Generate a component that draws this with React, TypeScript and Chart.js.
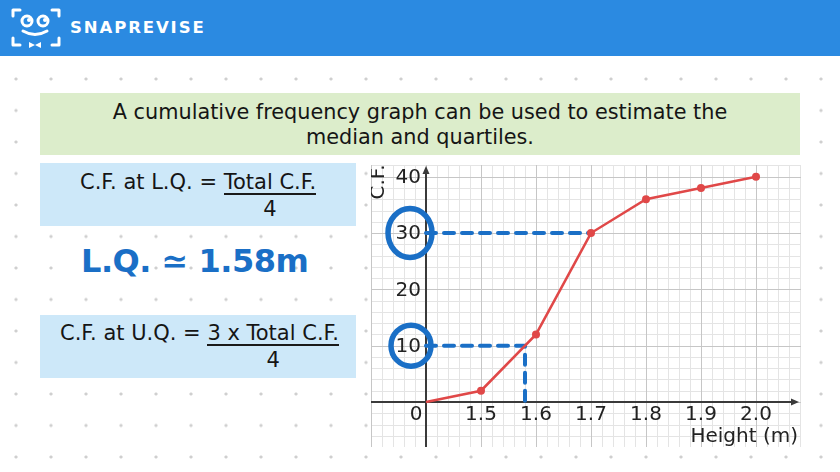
import React, { useEffect, useRef } from 'react';
import { Chart, registerables } from 'chart.js';

Chart.register(...registerables);

// ---- data ----
const heightLabels = ['0', '1.5', '1.6', '1.7', '1.8', '1.9', '2.0'];
const cumulativeFrequency = [0, 2, 12, 30, 36, 38, 40];
const yTickValues = [10, 20, 30, 40];
const circledTicks = [10, 30];
const lowerQuartileCF = 10;
const upperQuartileCF = 30;
const lowerQuartileHeight = 1.58;
const upperQuartileHeight = 1.7;

const xAxisTitle = 'Height (m)';
const yAxisTitle = 'C.F.';

// index position of a height on the broken axis (index 1 = 1.5 m, step 0.1 m)
const heightToIndex = (h: number) => 1 + (h - 1.5) / 0.1;

const BLUE = '#1a6fc6';
const RED = '#e04848';
const FONT = '"DejaVu Sans", "Open Sans", sans-serif';

const paperPlugin = {
  id: 'paperGrid',
  beforeDatasetsDraw(chart: any) {
    const { ctx, chartArea: a, scales } = chart;
    const xs = scales.x;
    const ys = scales.y;
    ctx.save();
    ctx.fillStyle = '#ffffff';
    ctx.fillRect(a.left, a.top, a.width, a.height);
    const drawV = (major: boolean) => {
      for (let k = -5; k <= 34; k++) {
        if ((k % 5 === 0) !== major) continue;
        const px = Math.round(xs.getPixelForValue(k * 0.2)) + 0.5;
        ctx.beginPath();
        ctx.moveTo(px, a.top);
        ctx.lineTo(px, a.bottom);
        ctx.stroke();
      }
    };
    const drawH = (major: boolean) => {
      for (let k = -4; k <= 21; k++) {
        if ((k % 5 === 0) !== major) continue;
        const py = Math.round(ys.getPixelForValue(k * 2)) + 0.5;
        ctx.beginPath();
        ctx.moveTo(a.left, py);
        ctx.lineTo(a.right, py);
        ctx.stroke();
      }
    };
    ctx.lineWidth = 1;
    ctx.strokeStyle = '#e4e4e4';
    drawV(false);
    drawH(false);
    ctx.strokeStyle = '#c6c6c6';
    drawV(true);
    drawH(true);

    // axes
    const x0 = xs.getPixelForValue(0);
    const y0 = ys.getPixelForValue(0);
    ctx.strokeStyle = '#3a3a3a';
    ctx.fillStyle = '#3a3a3a';
    ctx.lineWidth = 2;
    ctx.beginPath();
    ctx.moveTo(x0, a.bottom);
    ctx.lineTo(x0, a.top + 4);
    ctx.stroke();
    ctx.beginPath();
    ctx.moveTo(x0, a.top + 1);
    ctx.lineTo(x0 - 3.5, a.top + 9);
    ctx.lineTo(x0 + 3.5, a.top + 9);
    ctx.closePath();
    ctx.fill();
    ctx.beginPath();
    ctx.moveTo(a.left, y0);
    ctx.lineTo(a.right - 5, y0);
    ctx.stroke();
    ctx.beginPath();
    ctx.moveTo(a.right - 2, y0);
    ctx.lineTo(a.right - 10, y0 - 3.5);
    ctx.lineTo(a.right - 10, y0 + 3.5);
    ctx.closePath();
    ctx.fill();

    // tick labels
    ctx.fillStyle = '#222';
    ctx.font = `20px ${FONT}`;
    ctx.textBaseline = 'middle';
    ctx.textAlign = 'right';
    yTickValues.forEach((v) => {
      ctx.fillText(String(v), x0 - 5, ys.getPixelForValue(v) + 1);
    });
    heightLabels.forEach((lab, i) => {
      const px = xs.getPixelForValue(i);
      ctx.textAlign = 'center';
      ctx.fillText(lab, i === 0 ? px - 10 : px, y0 + 13);
    });
    // axis titles
    ctx.textAlign = 'right';
    ctx.fillText(xAxisTitle, a.right - 3, y0 + 35);
    ctx.save();
    ctx.translate(a.left + 8, a.top + 17);
    ctx.rotate(-Math.PI / 2);
    ctx.textAlign = 'center';
    ctx.fillText(yAxisTitle, 0, 0);
    ctx.restore();
    ctx.restore();
  },
  afterDatasetsDraw(chart: any) {
    const { ctx, scales } = chart;
    const x0 = scales.x.getPixelForValue(0);
    ctx.save();
    ctx.strokeStyle = BLUE;
    ctx.lineWidth = 5.5;
    circledTicks.forEach((v, i) => {
      const cy = scales.y.getPixelForValue(v);
      ctx.beginPath();
      if (i === 0) ctx.ellipse(x0 - 15, cy, 20, 20.5, 0, 0, Math.PI * 2);
      else ctx.ellipse(x0 - 16, cy, 22, 24.5, 0, 0, Math.PI * 2);
      ctx.stroke();
    });
    ctx.restore();
  },
};

function App() {
  const ref = useRef<HTMLCanvasElement | null>(null);

  useEffect(() => {
    if (!ref.current) return;
    const lqX = heightToIndex(lowerQuartileHeight);
    const uqX = heightToIndex(upperQuartileHeight);
    const chart = new Chart(ref.current, {
      type: 'line',
      data: {
        datasets: [
          {
            data: cumulativeFrequency.map((v, i) => ({ x: i, y: v })),
            borderColor: RED,
            backgroundColor: RED,
            borderWidth: 2.5,
            pointRadius: cumulativeFrequency.map((_, i) => (i === 0 ? 0 : 4)),
            pointBorderWidth: 0,
            tension: 0,
          },
          {
            data: [
              { x: 0, y: lowerQuartileCF },
              { x: lqX, y: lowerQuartileCF },
              { x: lqX, y: 0 },
            ],
            borderColor: BLUE,
            borderWidth: 4,
            borderDash: [10, 8],
            borderCapStyle: 'round',
            pointRadius: 0,
            tension: 0,
          },
          {
            data: [
              { x: 0, y: upperQuartileCF },
              { x: uqX, y: upperQuartileCF },
            ],
            borderColor: BLUE,
            borderWidth: 4,
            borderDash: [10, 8],
            borderCapStyle: 'round',
            pointRadius: 0,
            tension: 0,
          },
        ] as any,
      },
      options: {
        animation: false,
        responsive: false,
        layout: { padding: 0, autoPadding: false },
        plugins: { legend: { display: false }, tooltip: { enabled: false } },
        scales: {
          x: { type: 'linear', min: -1.0, max: 6.818, display: false },
          y: { type: 'linear', min: -7.99, max: 42.08, display: false },
        },
      } as any,
      plugins: [paperPlugin],
    });
    return () => chart.destroy();
  }, []);

  const page: React.CSSProperties = {
    position: 'fixed',
    left: 0,
    top: 0,
    width: 840,
    height: 472,
    overflow: 'hidden',
    backgroundColor: '#ffffff',
    backgroundImage: 'radial-gradient(circle, #cfcfcf 1.4px, rgba(255,255,255,0) 1.8px)',
    backgroundSize: '35px 31.5px',
    backgroundPosition: '-1.5px 0.25px',
    fontFamily: FONT,
    color: '#151515',
  };

  return (
    <div style={page}>
      {/* header */}
      <div style={{ position: 'absolute', left: 0, top: 0, width: 840, height: 56, background: '#2b8ae1' }}>
        <svg width="60" height="50" viewBox="0 0 60 50" style={{ position: 'absolute', left: 5, top: 2 }}>
          <g stroke="#fff" strokeWidth="3" fill="none" strokeLinecap="round" strokeLinejoin="round">
            <path d="M8 14 V8 H15" />
            <path d="M47 8 H54 V14" />
            <path d="M8 36 V43 H15" />
            <path d="M47 43 H54 V36" />
            <circle cx="22" cy="19" r="5" />
            <circle cx="38" cy="19" r="5" />
            <path d="M18 29 Q30 36 42 29" />
          </g>
          <circle cx="24" cy="18" r="2" fill="#fff" />
          <circle cx="40" cy="18" r="2" fill="#fff" />
          <path d="M24 40 L30 43 L36 40 L36 46 L30 43 L24 46 Z" fill="#fff" />
        </svg>
        <div
          style={{
            position: 'absolute',
            left: 70,
            top: 16,
            fontSize: 16.5,
            lineHeight: '24px',
            fontWeight: 700,
            letterSpacing: 1.9,
            color: '#fff',
          }}
        >
          SNAPREVISE
        </div>
      </div>

      {/* title box */}
      <div
        style={{
          position: 'absolute',
          left: 40,
          top: 93,
          width: 760,
          height: 62,
          background: '#dcedcb',
          display: 'flex',
          alignItems: 'center',
          justifyContent: 'center',
          textAlign: 'center',
          fontSize: 20.8,
          lineHeight: '25px',
          paddingTop: 2,
          boxSizing: 'border-box',
        }}
      >
        <div>
          A cumulative frequency graph can be used to estimate the
          <br />
          median and quartiles.
        </div>
      </div>

      {/* L.Q. formula */}
      <div style={{ position: 'absolute', left: 40, top: 163, width: 316, height: 63, background: '#cde8f9' }}>
        <div style={{ position: 'absolute', left: 40, top: 8, display: 'flex', fontSize: 21, lineHeight: '23px' }}>
          <span style={{ whiteSpace: 'pre' }}>C.F. at L.Q. = </span>
          <span style={{ display: 'inline-flex', flexDirection: 'column', alignItems: 'center' }}>
            <span style={{ borderBottom: '2px solid #1a1a1a', lineHeight: '22px' }}>Total C.F.</span>
            <span style={{ marginTop: 3 }}>4</span>
          </span>
        </div>
      </div>

      {/* handwritten result */}
      <div
        style={{
          position: 'absolute',
          left: 81,
          top: 241,
          fontSize: 32,
          lineHeight: '40px',
          fontWeight: 700,
          color: BLUE,
          fontFamily: '"DejaVu Sans", sans-serif',
          letterSpacing: -0.5,
        }}
      >
        L.Q. ≃ 1.58m
      </div>

      {/* U.Q. formula */}
      <div style={{ position: 'absolute', left: 40, top: 315, width: 316, height: 63, background: '#cde8f9' }}>
        <div style={{ position: 'absolute', left: 20, top: 7, display: 'flex', fontSize: 21, lineHeight: '23px' }}>
          <span style={{ whiteSpace: 'pre' }}>C.F. at U.Q. = </span>
          <span style={{ display: 'inline-flex', flexDirection: 'column', alignItems: 'center' }}>
            <span style={{ borderBottom: '2px solid #1a1a1a', lineHeight: '22px' }}>3 x Total C.F.</span>
            <span style={{ marginTop: 3 }}>4</span>
          </span>
        </div>
      </div>

      {/* chart on grid paper */}
      <canvas ref={ref} width={430} height={282} style={{ position: 'absolute', left: 371, top: 165 }} />
    </div>
  );
}

export default App;
